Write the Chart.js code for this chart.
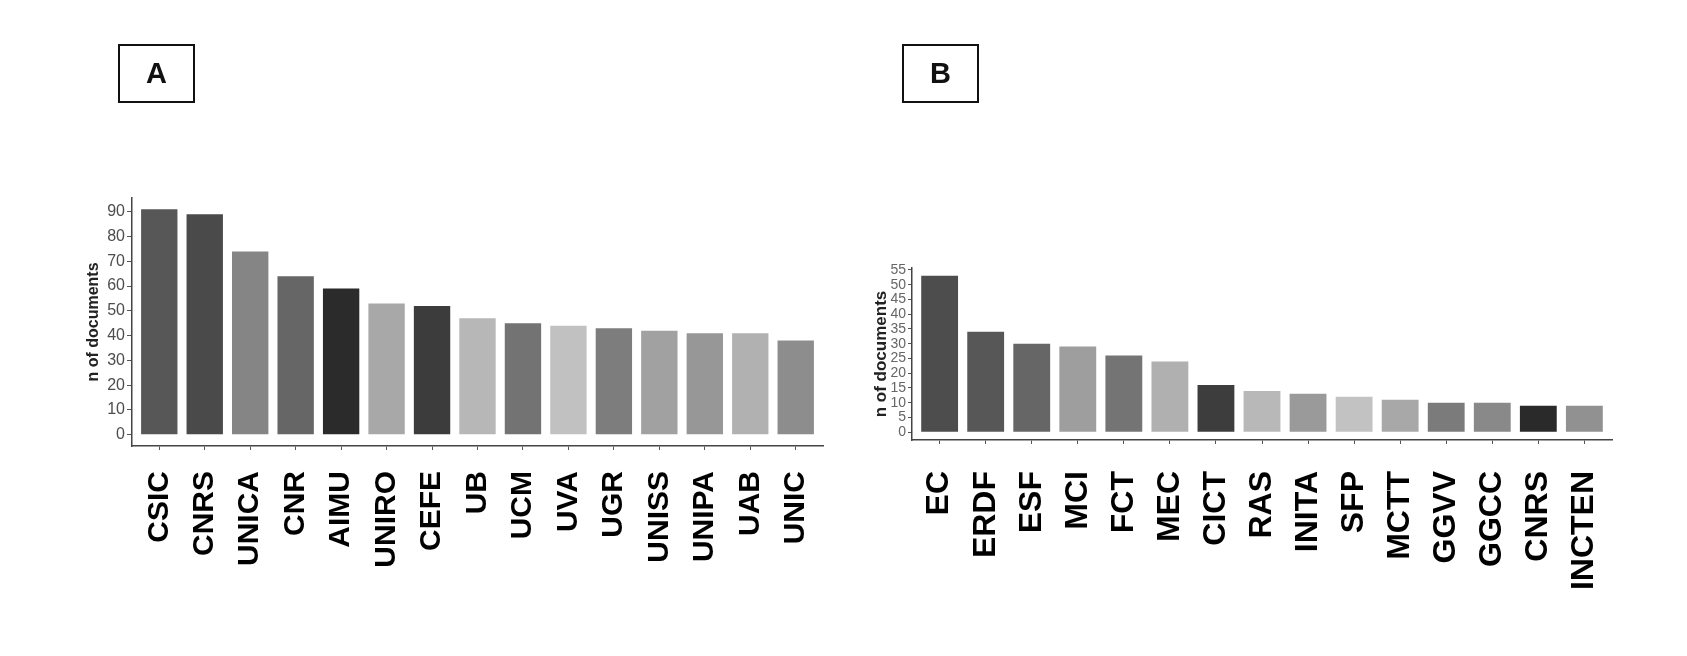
<!DOCTYPE html>
<html><head><meta charset="utf-8">
<script src="https://cdn.jsdelivr.net/npm/chart.js@4.4.1/dist/chart.umd.min.js"></script>
<style>
html,body{margin:0;padding:0;background:#fff;width:1687px;height:656px;overflow:hidden;}
#wa{position:absolute;left:0;top:0;width:845px;height:656px;}
#wb{position:absolute;left:845px;top:0;width:842px;height:656px;}
.box{position:absolute;box-sizing:border-box;width:77px;height:59px;border:2.5px solid #111;font:bold 29px "Liberation Sans",Arial,sans-serif;display:flex;align-items:center;justify-content:center;color:#111;}
</style></head><body>
<div id="wa"><canvas id="ca"></canvas></div>
<div id="wb"><canvas id="cb"></canvas></div>
<div class="box" style="left:118px;top:44px">A</div>
<div class="box" style="left:902px;top:44px">B</div>
<script>
// Panel A data
const categoriesA = ["CSIC","CNRS","UNICA","CNR","AIMU","UNIRO","CEFE","UB","UCM","UVA","UGR","UNISS","UNIPA","UAB","UNIC"];
const valuesA = [91,89,74,64,59,53,52,47,45,44,43,42,41,41,38];
const yTicksA = [0,10,20,30,40,50,60,70,80,90];
const coloursA = ["#575757","#4a4a4a","#858585","#666666","#2b2b2b","#a8a8a8","#3c3c3c","#b7b7b7","#737373","#c1c1c1","#7d7d7d","#a1a1a1","#979797","#b1b1b1","#8d8d8d"];

// Panel B data
const categoriesB = ["EC","ERDF","ESF","MCI","FCT","MEC","CICT","RAS","INITA","SFP","MCTT","GGVV","GGCC","CNRS","INCTEN"];
const valuesB = [53,34,30,29,26,24,16,14,13,12,11,10,10,9,9];
const yTicksB = [0,5,10,15,20,25,30,35,40,45,50,55];
const coloursB = ["#4d4d4d","#575757","#666666","#9e9e9e","#747474","#b0b0b0","#3d3d3d","#b8b8b8","#9a9a9a","#c2c2c2","#a8a8a8","#7b7b7b","#898989","#2a2a2a","#919191"];

const FONT = '"Liberation Sans", Arial, sans-serif';

function makeChart(id, cats, vals, cols, yTicks, g) {
  const maxV = Math.max(...vals);
  const ex = maxV * 0.05;
  new Chart(document.getElementById(id), {
    type: 'bar',
    data: {
      datasets: [{
        data: vals.map((v, i) => ({x: i + 1, y: v})),
        backgroundColor: cols,
        borderWidth: 0,
        barPercentage: 0.8,
        categoryPercentage: 1.0
      }]
    },
    options: {
      responsive: true,
      maintainAspectRatio: false,
      animation: false,
      layout: {padding: {left: g.padL, top: g.padT, right: g.padR, bottom: 0}},
      plugins: {legend: {display: false}, tooltip: {enabled: false}},
      scales: {
        x: {
          type: 'linear',
          offset: false,
          min: 0.4,
          max: cats.length + 0.6,
          afterBuildTicks: s => { s.ticks = cats.map((c, i) => ({value: i + 1})); },
          afterFit: s => { s.height = g.xH; s.paddingLeft = 0; s.paddingRight = 0; },
          ticks: {
            autoSkip: false,
            maxRotation: 90,
            minRotation: 90,
            padding: g.xPad,
            color: '#000',
            font: {family: FONT, weight: 'bold', size: g.xFont},
            callback: v => cats[Math.round(v) - 1]
          },
          grid: {display: true, offset: false, drawOnChartArea: false, drawTicks: true, tickLength: 4, color: '#555', lineWidth: 1},
          border: {display: true, color: '#444', width: 1.5}
        },
        y: {
          type: 'linear',
          min: -ex,
          max: maxV + ex,
          afterBuildTicks: s => { s.ticks = yTicks.map(v => ({value: v})); },
          afterFit: s => { s.width = g.yW; },
          ticks: {
            autoSkip: false,
            padding: 2,
            color: g.yCol,
            font: {family: FONT, size: g.yFont, lineHeight: 1}
          },
          grid: {display: true, drawOnChartArea: false, drawTicks: true, tickLength: g.yTick, color: '#555', lineWidth: 1},
          border: {display: true, color: '#444', width: 1.5},
          title: {
            display: true,
            text: 'n of documents',
            color: '#222',
            font: {family: FONT, weight: 'bold', size: g.tFont, lineHeight: 1.2},
            padding: {top: g.tPad, bottom: 0}
          }
        }
      }
    }
  });
}

makeChart('ca', categoriesA, valuesA, coloursA, yTicksA,
  {padL: 75, padT: 198, padR: 22, xH: 210, yW: 57, xPad: 21, xFont: 30, yFont: 16, yCol: '#4d4d4d', yTick: 5, tFont: 16, tPad: 9});
makeChart('cb', categoriesB, valuesB, coloursB, yTicksB,
  {padL: 20, padT: 268, padR: 75, xH: 216, yW: 47, xPad: 27, xFont: 32, yFont: 14, yCol: '#666', yTick: 4, tFont: 17, tPad: 6});
</script>
</body></html>
